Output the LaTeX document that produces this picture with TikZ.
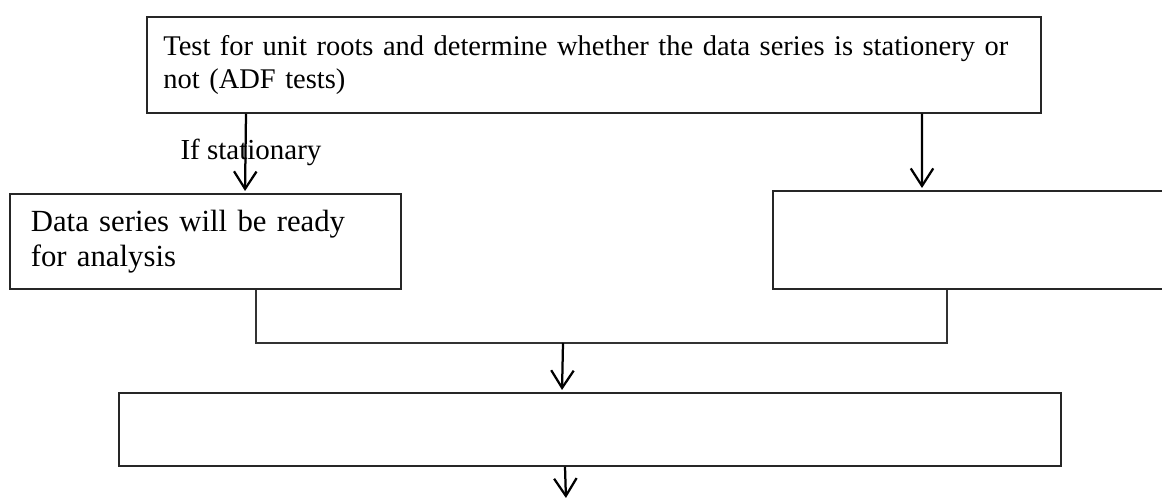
\documentclass[tikz,border=0pt]{standalone}
\usepackage{fontspec}
\setmainfont{Liberation Serif}
\usetikzlibrary{arrows.meta,calc}
\tikzset{
  flow/.style={-{Straight Barb[length=7pt,width=9pt,line width=0.9pt]},
    line width=0.9pt, draw=black, shorten >=0.8pt},
  link/.style={line width=0.7pt, draw=black!80},
  step box/.style={draw=black!85, line width=0.7pt, anchor=north west,
    align=left, inner ysep=0pt},
  test text/.style={font=\fontsize{11.4}{13.2}\selectfont},
  ready text/.style={font=\fontsize{12.3}{14}\selectfont},
  tag/.style={font=\fontsize{11.6}{13.2}\selectfont, inner sep=0pt}
}
\begin{document}
\begin{tikzpicture}[x=0.4pt,y=-0.4pt]
  \useasboundingbox (0,0) rectangle (1162,498);
  % boxes
  \node[step box, test text, minimum width=357.6pt, minimum height=38.4pt,
    text width=344.4pt, inner xsep=6.6pt] (test) at (146,16)
    {Test for unit roots and determine whether the data series is stationery or\\
     not (ADF tests)};
  \node[step box, ready text, minimum width=156.4pt, minimum height=38pt,
    text width=139.6pt, inner xsep=8.4pt] (ready) at (9,193)
    {Data series will be ready\\for analysis};
  \node[step box, minimum width=171.2pt, minimum height=39.2pt] (other) at (772,190) {};
  \node[step box, minimum width=376.8pt, minimum height=29.2pt] (next) at (118,392) {};
  \node[tag, anchor=base west] (cond) at (180,160) {If stationary};
  % connectors
  \coordinate (joint) at (563,343);
  \coordinate (exit) at (566,500);
  \draw[flow] ([xshift=40pt]test.south west) -- ([xshift=94.4pt]ready.north west);
  \draw[flow] ([xshift=310.4pt]test.south west) -- ([xshift=60pt]other.north west);
  \draw[link] ([xshift=98.8pt]ready.south west) |- (joint)
    -| ([xshift=70pt]other.south west);
  \draw[flow] (joint) -- ([xshift=177.6pt]next.north west);
  \draw[flow] ([xshift=178.8pt]next.south west) -- (exit);
\end{tikzpicture}
\end{document}
